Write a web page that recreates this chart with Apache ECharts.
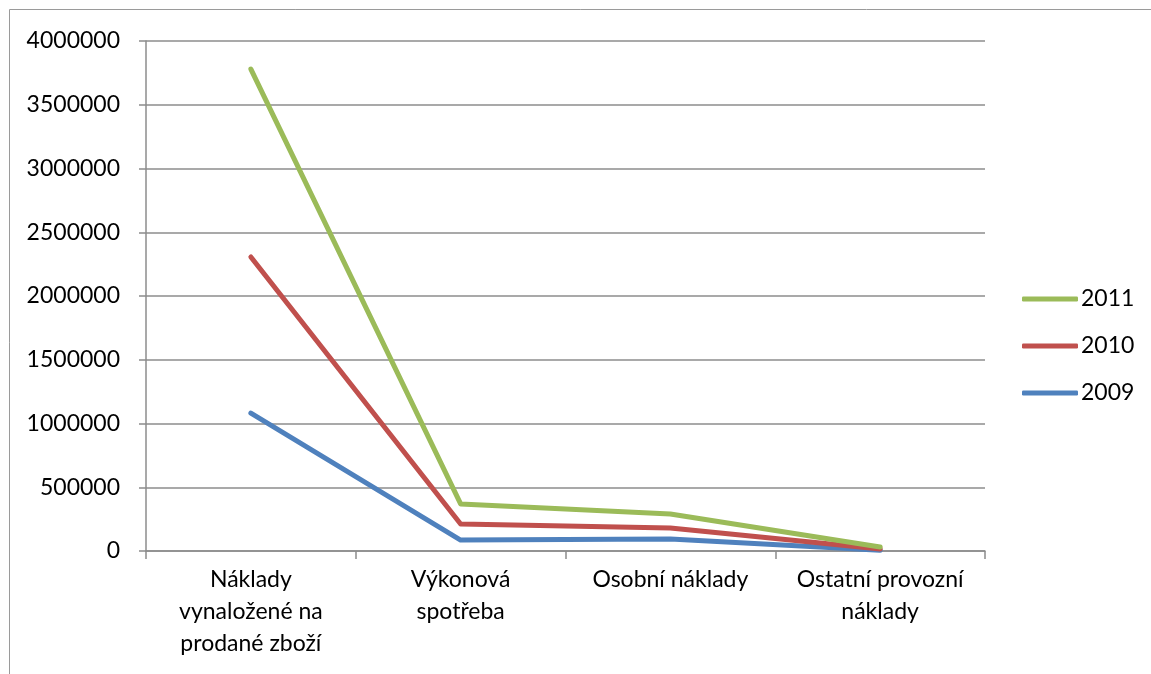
<!DOCTYPE html>
<html>
<head>
<meta charset="utf-8">
<title>Náklady 2009–2011</title>
<script src="https://cdn.jsdelivr.net/npm/echarts@6/dist/echarts.min.js"></script>
<style>
  html, body { margin: 0; padding: 0; background: #ffffff; }
  #chart { width: 1151px; height: 674px; }
</style>
</head>
<body>
<div id="chart"></div>
<script>
// Cost categories on the x axis
const categories = [
  'Náklady\nvynaložené na\nprodané zboží',
  'Výkonová\nspotřeba',
  'Osobní náklady',
  'Ostatní provozní\nnáklady'
];

// Costs per year
const values2009 = [1082000, 86000, 94000, 5000];
const values2010 = [2306000, 212000, 180000, 15000];
const values2011 = [3780000, 369000, 290000, 31000];

const seriesNames = ['2011', '2010', '2009'];
const yTicks = { min: 0, max: 4000000, interval: 500000 };

const font = 'Lato, "Open Sans", "Liberation Sans", sans-serif';
const gridGray = '#8c8c8c';

const chart = echarts.init(document.getElementById('chart'), null, { renderer: 'canvas' });

function lineSeries(name, data, color) {
  return {
    name: name,
    type: 'line',
    data: data,
    symbol: 'none',
    showSymbol: false,
    lineStyle: { color: color, width: 5, cap: 'round', join: 'round' },
    itemStyle: { color: color },
    emphasis: { disabled: true }
  };
}

chart.setOption({
  animation: false,
  backgroundColor: '#ffffff',
  textStyle: { fontFamily: font },
  graphic: [{
    type: 'rect',
    shape: { x: 9.5, y: 9.5, width: 1160, height: 700 },
    style: { fill: 'none', stroke: '#9a9a9a', lineWidth: 1 },
    silent: true,
    z: -10
  }],
  grid: { left: 146, right: 166, top: 41, bottom: 123, containLabel: false },
  legend: {
    orient: 'vertical',
    left: 1022,
    top: 287,
    padding: 0,
    data: seriesNames,
    icon: 'roundRect',
    itemWidth: 56,
    itemHeight: 5,
    itemGap: 23,
    textStyle: { fontFamily: font, fontSize: 23, lineHeight: 24, color: '#000000', padding: [0, 0, 0, -2] },
    selectedMode: false
  },
  xAxis: {
    type: 'category',
    data: categories,
    boundaryGap: true,
    axisLine: { lineStyle: { color: gridGray, width: 1.5 } },
    axisTick: { show: true, alignWithLabel: false, length: 8, lineStyle: { color: gridGray, width: 1.5 } },
    axisLabel: {
      interval: 0,
      margin: 13,
      fontFamily: font,
      fontSize: 23,
      lineHeight: 32,
      color: '#000000',
      align: 'center'
    },
    splitLine: { show: false }
  },
  yAxis: {
    type: 'value',
    min: yTicks.min,
    max: yTicks.max,
    interval: yTicks.interval,
    axisLine: { show: true, lineStyle: { color: gridGray, width: 1.5 } },
    axisTick: { show: true, length: 7, lineStyle: { color: gridGray, width: 1.5 } },
    axisLabel: {
      margin: 26,
      fontFamily: font,
      fontSize: 23,
      color: '#000000',
      formatter: function (v) { return String(v); }
    },
    splitLine: { show: true, lineStyle: { color: gridGray, width: 1.5 } }
  },
  series: [
    lineSeries('2009', values2009, '#4F81BD'),
    lineSeries('2010', values2010, '#C0504D'),
    lineSeries('2011', values2011, '#9BBB59')
  ]
});
</script>
</body>
</html>
